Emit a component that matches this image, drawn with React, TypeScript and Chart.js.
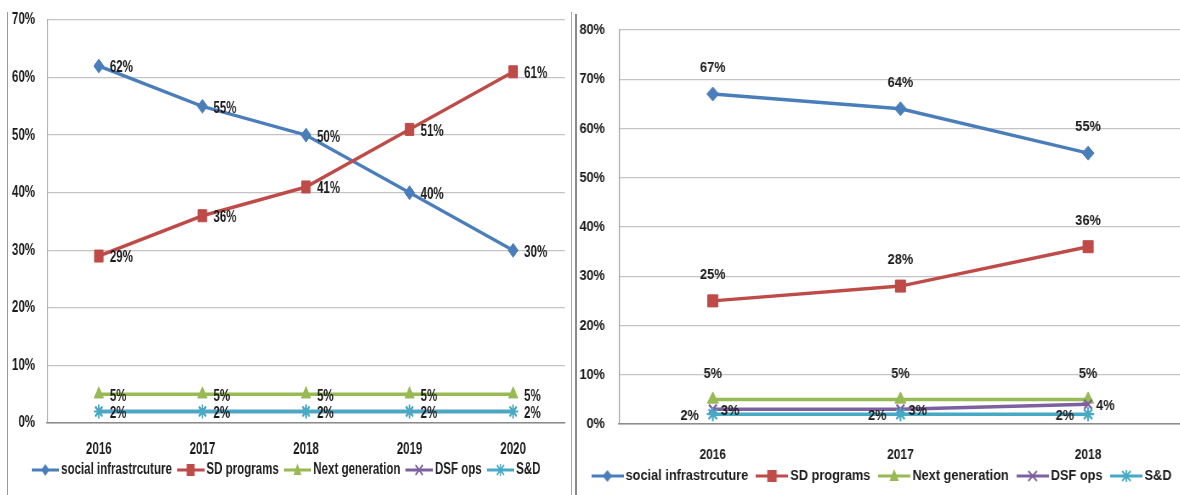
import React, { useEffect, useRef } from 'react';
import { Chart, registerables } from 'chart.js';

Chart.register(...registerables);

// ---------- data ----------
const SERIES_NAMES = ['social infrastrcuture', 'SD programs', 'Next generation', 'DSF ops', 'S&D'];

const LEFT_YEARS = ['2016', '2017', '2018', '2019', '2020'];
const LEFT_SOCIAL = [62, 55, 50, 40, 30];
const LEFT_SD = [29, 36, 41, 51, 61];
const LEFT_NEXTGEN = [5, 5, 5, 5, 5];
const LEFT_DSF = [2, 2, 2, 2, 2];
const LEFT_SND = [2, 2, 2, 2, 2];

const RIGHT_YEARS = ['2016', '2017', '2018'];
const RIGHT_SOCIAL = [67, 64, 55];
const RIGHT_SD = [25, 28, 36];
const RIGHT_NEXTGEN = [5, 5, 5];
const RIGHT_DSF = [3, 3, 4];
const RIGHT_SND = [2, 2, 2];

const LEFT_Y_MAX = 70;
const RIGHT_Y_MAX = 80;
const Y_STEP = 10;

// ---------- styles ----------
const COLORS = ['#4a7ebb', '#be4b48', '#98b954', '#7d60a0', '#46aac5'];
const POINT_STYLES = ['rectRot', 'rect', 'triangle', 'crossRot', 'star'];
const POINT_RADII = [7, 8.5, 7.5, 6.5, 7];
const FONT_FAMILY = '"Liberation Sans", Arial, sans-serif';
const TEXT_COLOR = '#1c1c1c';

function makeIcon(color: string, style: string): HTMLCanvasElement {
  const c = document.createElement('canvas');
  c.width = 38;
  c.height = 16;
  const g = c.getContext('2d')!;
  g.strokeStyle = color;
  g.fillStyle = color;
  g.lineWidth = 3;
  g.beginPath();
  g.moveTo(0, 8);
  g.lineTo(38, 8);
  g.stroke();
  const cx = 19;
  const cy = 8;
  g.lineWidth = 1.8;
  g.beginPath();
  if (style === 'rectRot') {
    g.moveTo(cx, cy - 6);
    g.lineTo(cx + 5.5, cy);
    g.lineTo(cx, cy + 6);
    g.lineTo(cx - 5.5, cy);
    g.closePath();
    g.fill();
  } else if (style === 'rect') {
    g.rect(cx - 5.5, cy - 6, 11, 12);
    g.fill();
  } else if (style === 'triangle') {
    g.moveTo(cx, cy - 7);
    g.lineTo(cx + 5.5, cy + 5);
    g.lineTo(cx - 5.5, cy + 5);
    g.closePath();
    g.fill();
  } else if (style === 'crossRot') {
    g.moveTo(cx - 5, cy - 5);
    g.lineTo(cx + 5, cy + 5);
    g.moveTo(cx + 5, cy - 5);
    g.lineTo(cx - 5, cy + 5);
    g.stroke();
  } else {
    g.moveTo(cx - 5, cy - 5);
    g.lineTo(cx + 5, cy + 5);
    g.moveTo(cx + 5, cy - 5);
    g.lineTo(cx - 5, cy + 5);
    g.moveTo(cx, cy - 6);
    g.lineTo(cx, cy + 6);
    g.stroke();
  }
  return c;
}

// value labels next to points + category labels under the x axis
const labelPlugin = {
  id: 'pointLabels',
  afterDatasetsDraw(chart: any, _args: any, opts: any) {
    const ctx = chart.ctx;
    const positions: (string | null)[] = opts.positions || [];
    ctx.save();
    ctx.font = `bold ${opts.size}px ${FONT_FAMILY}`;
    ctx.fillStyle = TEXT_COLOR;
    ctx.textBaseline = 'middle';
    chart.data.datasets.forEach((ds: any, i: number) => {
      const pos = positions[i];
      if (!pos) return;
      const meta = chart.getDatasetMeta(i);
      meta.data.forEach((pt: any, j: number) => {
        const txt = ds.data[j] + '%';
        if (pos === 'right') {
          ctx.textAlign = 'left';
          ctx.fillText(txt, pt.x + opts.rightGap, pt.y + 2);
        } else if (pos === 'left') {
          ctx.textAlign = 'right';
          ctx.fillText(txt, pt.x - opts.leftGap, pt.y + 2);
        } else {
          ctx.textAlign = 'center';
          ctx.fillText(txt, pt.x, pt.y - opts.topGap);
        }
      });
    });
    ctx.restore();
  },
  afterDraw(chart: any, _args: any, opts: any) {
    const ctx = chart.ctx;
    const xScale = chart.scales.x;
    ctx.save();
    ctx.font = `bold ${opts.xSize}px ${FONT_FAMILY}`;
    ctx.fillStyle = TEXT_COLOR;
    ctx.textAlign = 'center';
    ctx.textBaseline = 'middle';
    (chart.data.labels as string[]).forEach((lab: string, i: number) => {
      ctx.fillText(lab, xScale.getPixelForTick(i), chart.chartArea.bottom + opts.xOffset);
    });
    ctx.restore();
  },
};

function buildDatasets(values: number[][]) {
  return values.map((data, i) => ({
    label: SERIES_NAMES[i],
    data,
    borderColor: COLORS[i],
    backgroundColor: COLORS[i],
    borderWidth: 3.5,
    pointStyle: POINT_STYLES[i],
    pointRadius: POINT_RADII[i],
    pointBorderColor: COLORS[i],
    pointBackgroundColor: COLORS[i],
    pointBorderWidth: i >= 3 ? 2.2 : 1,
    tension: 0,
    order: values.length - 1 - i,
  }));
}

interface Cfg {
  labels: string[];
  values: number[][];
  yMax: number;
  width: number;
  height: number;
  yAxisWidth: number;
  tickPadding: number;
  padTop: number;
  padRight: number;
  padBottom: number;
  xAxisHeight: number;
  xOffset: number;
  tickSize: number;
  xTickSize: number;
  legendSize: number;
  legendPadding: number;
  labelPositions: (string | null)[];
  labelSize: number;
  rightGap: number;
  leftGap: number;
  topGap: number;
}

function LineChart({ cfg }: { cfg: Cfg }) {
  const ref = useRef<HTMLCanvasElement | null>(null);
  useEffect(() => {
    if (!ref.current) return;
    const icons = COLORS.map((c, i) => makeIcon(c, POINT_STYLES[i]));
    const chart = new Chart(ref.current, {
      type: 'line',
      data: { labels: cfg.labels, datasets: buildDatasets(cfg.values) as any },
      plugins: [labelPlugin as any],
      options: {
        responsive: false,
        animation: false,
        devicePixelRatio: 1,
        layout: { padding: { top: cfg.padTop, right: cfg.padRight, bottom: cfg.padBottom, left: 0 } },
        scales: {
          x: {
            offset: true,
            grid: { display: false, drawTicks: false },
            border: { display: true, color: '#8c8c8c', width: 1.5 },
            ticks: { display: false },
            afterFit: (scale: any) => {
              scale.height = cfg.xAxisHeight;
            },
          },
          y: {
            min: 0,
            max: cfg.yMax,
            grid: { color: '#c4c4c4', lineWidth: 1.3, drawTicks: false },
            border: { display: true, color: '#a0a0a0', width: 1.3 },
            ticks: {
              stepSize: Y_STEP,
              padding: cfg.tickPadding,
              color: TEXT_COLOR,
              font: { family: FONT_FAMILY, size: cfg.tickSize, weight: 'bold' },
              callback: (v: any) => v + '%',
            },
            afterFit: (scale: any) => {
              scale.width = cfg.yAxisWidth;
              scale.paddingTop = 0;
              scale.paddingBottom = 0;
            },
          },
        },
        plugins: {
          legend: {
            position: 'bottom',
            labels: {
              usePointStyle: true,
              pointStyleWidth: 28,
              padding: cfg.legendPadding,
              color: TEXT_COLOR,
              font: { family: FONT_FAMILY, size: cfg.legendSize, weight: 'bold' },
              generateLabels: (ch: any) =>
                ch.data.datasets.map((ds: any, i: number) => ({
                  text: ds.label,
                  fillStyle: COLORS[i],
                  strokeStyle: COLORS[i],
                  lineWidth: 0,
                  pointStyle: icons[i],
                  hidden: false,
                  datasetIndex: i,
                  fontColor: TEXT_COLOR,
                })),
            },
          },
          tooltip: { enabled: false },
          pointLabels: {
            positions: cfg.labelPositions,
            size: cfg.labelSize,
            rightGap: cfg.rightGap,
            leftGap: cfg.leftGap,
            topGap: cfg.topGap,
            xSize: cfg.xTickSize,
            xOffset: cfg.xOffset,
          },
        } as any,
      },
    });
    return () => chart.destroy();
  }, [cfg]);
  return <canvas ref={ref} width={cfg.width} height={cfg.height} style={{ display: 'block' }} />;
}

// horizontal compression of each panel (the reference is squeezed sideways)
const LEFT_SCALE = 0.72;
const RIGHT_SCALE = 0.85;

const LEFT_CFG: Cfg = {
  labels: LEFT_YEARS,
  values: [LEFT_SOCIAL, LEFT_SD, LEFT_NEXTGEN, LEFT_DSF, LEFT_SND],
  yMax: LEFT_Y_MAX,
  width: 783,
  height: 495,
  yAxisWidth: 54.2,
  tickPadding: 16.7,
  padTop: 20,
  padRight: 5.6,
  padBottom: 7,
  xAxisHeight: 27,
  xOffset: 27,
  tickSize: 16,
  xTickSize: 16,
  legendSize: 16,
  legendPadding: 12,
  labelPositions: ['right', 'right', 'right', null, 'right'],
  labelSize: 16,
  rightGap: 15.3,
  leftGap: 18,
  topGap: 26,
};

const RIGHT_CFG: Cfg = {
  labels: RIGHT_YEARS,
  values: [RIGHT_SOCIAL, RIGHT_SD, RIGHT_NEXTGEN, RIGHT_DSF, RIGHT_SND],
  yMax: RIGHT_Y_MAX,
  width: 720,
  height: 495,
  yAxisWidth: 48.2,
  tickPadding: 16.5,
  padTop: 30,
  padRight: 1.2,
  padBottom: 1.5,
  xAxisHeight: 30.5,
  xOffset: 31,
  tickSize: 15,
  xTickSize: 14,
  legendSize: 15,
  legendPadding: 14,
  labelPositions: ['top', 'top', 'top', 'right', 'left'],
  labelSize: 15,
  rightGap: 9.5,
  leftGap: 16.5,
  topGap: 26,
};

export default function App() {
  return (
    <div
      style={{
        position: 'fixed',
        left: 0,
        top: 0,
        width: 1180,
        height: 495,
        overflow: 'hidden',
        background: '#ffffff',
      }}
    >
      <div style={{ position: 'absolute', left: 8, top: 0, transform: `scaleX(${LEFT_SCALE})`, transformOrigin: '0 0' }}>
        <LineChart cfg={LEFT_CFG} />
      </div>
      <div style={{ position: 'absolute', left: 578, top: 0, transform: `scaleX(${RIGHT_SCALE})`, transformOrigin: '0 0' }}>
        <LineChart cfg={RIGHT_CFG} />
      </div>
      <div style={{ position: 'absolute', left: 7, top: 12, width: 1, height: 483, background: '#9a9a9a' }} />
      <div style={{ position: 'absolute', left: 571, top: 12, width: 1, height: 483, background: '#a8a8a8' }} />
      <div style={{ position: 'absolute', left: 575, top: 14, width: 2, height: 481, background: '#8a8a8a' }} />
    </div>
  );
}
